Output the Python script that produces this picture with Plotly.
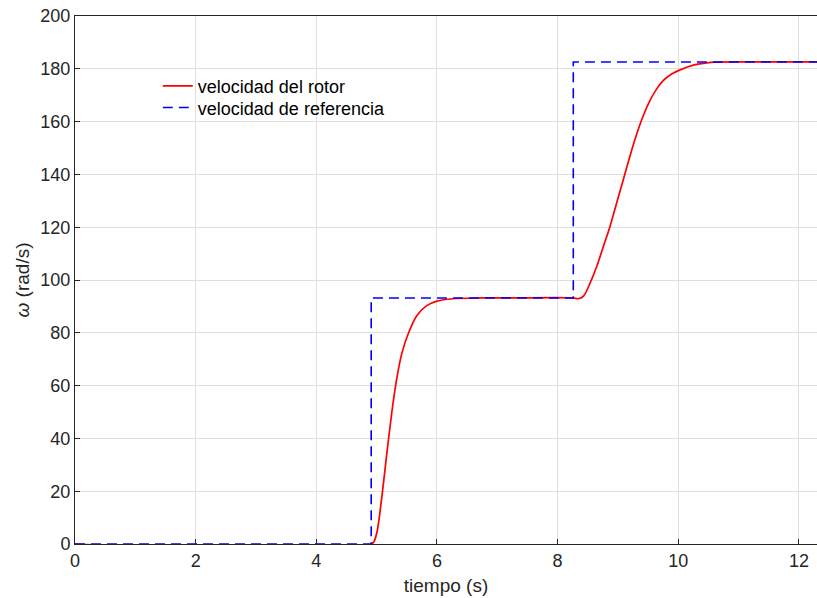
import plotly.graph_objects as go

# Rotor speed (red)
t_rotor = [0, 4.92, 5.00, 5.08, 5.17, 5.25, 5.33, 5.42, 5.53, 5.66, 5.83, 6.00, 6.27, 6.71, 7.20,
           8.26, 8.34, 8.43, 8.54, 8.65, 8.76, 8.87, 8.98, 9.09, 9.20, 9.31, 9.42, 9.53, 9.64,
           9.75, 9.89, 10.03, 10.25, 10.47, 10.60, 11.00, 12.30]
w_rotor = [0, 0, 4.0, 16.7, 34.4, 49.6, 62.2, 72.4, 80.0, 86.3, 90.3, 92.0, 92.9, 93.2, 93.2,
           93.2, 92.9, 93.9, 98.9, 105.2, 112.8, 120.4, 129.3, 138.1, 147.0, 155.2, 162.2, 167.9, 172.3,
           175.5, 178.0, 179.6, 181.4, 182.2, 182.5, 182.6, 182.6]

# Reference speed (blue dashed, step function)
t_ref = [0, 4.91, 8.26, 12.30]
w_ref = [0, 93.2, 182.6, 182.6]

x_ticks = [0, 2, 4, 6, 8, 10, 12]
y_ticks = [0, 20, 40, 60, 80, 100, 120, 140, 160, 180, 200]

FONT = "Liberation Sans, Arial, Helvetica, sans-serif"
DARK = "#262626"
GRID = "#dfdfdf"

fig = go.Figure()
fig.add_trace(go.Scatter(x=t_rotor, y=w_rotor, mode="lines", name="velocidad del rotor",
                         legend="legend",
                         line=dict(color="#ff0000", width=1.7, shape="spline", smoothing=0.8)))
fig.add_trace(go.Scatter(x=t_ref, y=w_ref, mode="lines", name="velocidad de referencia",
                         legend="legend2",
                         line=dict(color="#0000ff", width=1.6, shape="hv", dash="10px,6px")))

# white box behind the legend entries (hides the grid there)
fig.add_shape(type="rect", xref="paper", yref="paper", x0=0.0943, x1=0.431, y0=0.799, y1=0.894,
              fillcolor="white", line=dict(width=0), layer="between")

leg_common = dict(xanchor="left", yanchor="middle", bgcolor="rgba(0,0,0,0)", borderwidth=0,
                  font=dict(size=18, color="black"))
fig.update_layout(
    width=817, height=598,
    margin=dict(l=75, r=0, t=16, b=54, autoexpand=False),
    paper_bgcolor="white", plot_bgcolor="white",
    font=dict(family=FONT, color=DARK, size=18),
    showlegend=True,
    legend=dict(x=0.1116, y=0.867, **leg_common),
    legend2=dict(x=0.1116, y=0.826, **leg_common),
)
fig.update_xaxes(range=[0, 12.3], tickvals=x_ticks, ticktext=[str(v) for v in x_ticks],
                 showline=True, linecolor=DARK, linewidth=1, mirror=True,
                 ticks="inside", ticklen=5, tickcolor=DARK, automargin=False,
                 ticklabeloverflow="allow",
                 showgrid=True, gridcolor=GRID, gridwidth=1, zeroline=False,
                 layer="below traces",
                 title=dict(text="tiempo (s)", font=dict(size=19, color=DARK), standoff=9))
fig.update_yaxes(range=[0, 200], tickvals=y_ticks, ticktext=[str(v) for v in y_ticks],
                 showline=True, linecolor=DARK, linewidth=1, mirror=False,
                 ticks="inside", ticklen=5, tickcolor=DARK, automargin=False,
                 ticklabeloverflow="allow",
                 showgrid=True, gridcolor=GRID, gridwidth=1, zeroline=False,
                 layer="below traces",
                 title=dict(text="<i>ω</i> (rad/s)", font=dict(size=19, color=DARK), standoff=5))

# remove the browser's default 8px page margin so the figure sits at the window's corner
fig.write_html("out.html", config={"displayModeBar": False},
               post_script="document.body.style.margin='0';document.body.style.overflow='hidden';")
